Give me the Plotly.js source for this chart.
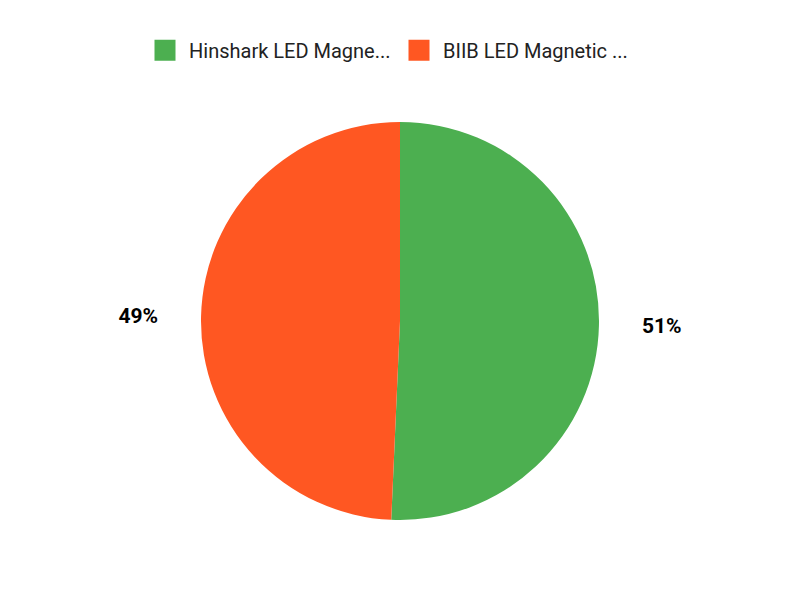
<!DOCTYPE html>
<html>
<head>
<meta charset="utf-8">
<script src="https://cdn.plot.ly/plotly-3.0.1.min.js"></script>
<style>
body { margin: 0; background: #fff; }
#graph { width: 800px; height: 600px; }
</style>
</head>
<body>
<div id="graph"></div>
<script>
// names are cut off like in the original chart
let labels = ['Hinshark LED Magne...', 'BIIB LED Magnetic ...'];
let values = [50.7, 49.3];
let colors = ['#4CAF50', '#FF5722'];

var trace = {
	type: 'pie',
	labels: labels,
	values: values,
	sort: false,
	direction: 'clockwise',
	rotation: 0,
	marker: { colors: colors },
	textposition: 'outside',
	texttemplate: '<b>%{percent:.0%}</b>',
	textfont: { size: 21, color: '#000', family: 'Roboto' },
	hoverinfo: 'label+percent'
};

var layout = {
	width: 800,
	height: 600,
	margin: { t: 122, b: 80, l: 100, r: 100 },
	paper_bgcolor: '#fff',
	font: { family: 'Roboto', color: '#222' },
	showlegend: true,
	legend: {
		orientation: 'h',
		x: 0.505, xanchor: 'center',
		y: 1.18, yanchor: 'middle',
		entrywidth: 209,
		entrywidthmode: 'pixels',
		font: { size: 20, family: 'Roboto', color: '#222' }
	}
};

var gd = document.getElementById('graph');

Plotly.newPlot(gd, [trace], layout, { displayModeBar: false }).then(function () {
	// bigger square legend swatches
	gd.querySelectorAll('.legendpoints path').forEach(function (p) {
		p.setAttribute('transform', 'translate(16,0) scale(1.75)');
	});
	// push the percent labels further away from the pie
	let cx = gd.calcdata[0][0].cx;
	let cy = gd.calcdata[0][0].cy;
	gd.querySelectorAll('g.slicetext').forEach(function (g) {
		let r = g.getBoundingClientRect();
		let dx = r.left + r.width/2 - cx;
		let dy = r.top + r.height/2 - cy;
		let len = Math.sqrt(dx*dx + dy*dy);
		let off = 37;
		let t = g.getAttribute('transform') || '';
		g.setAttribute('transform', 'translate(' + (dx/len*off) + ',' + (dy/len*off) + ') ' + t);
	});
});
</script>
</body>
</html>
